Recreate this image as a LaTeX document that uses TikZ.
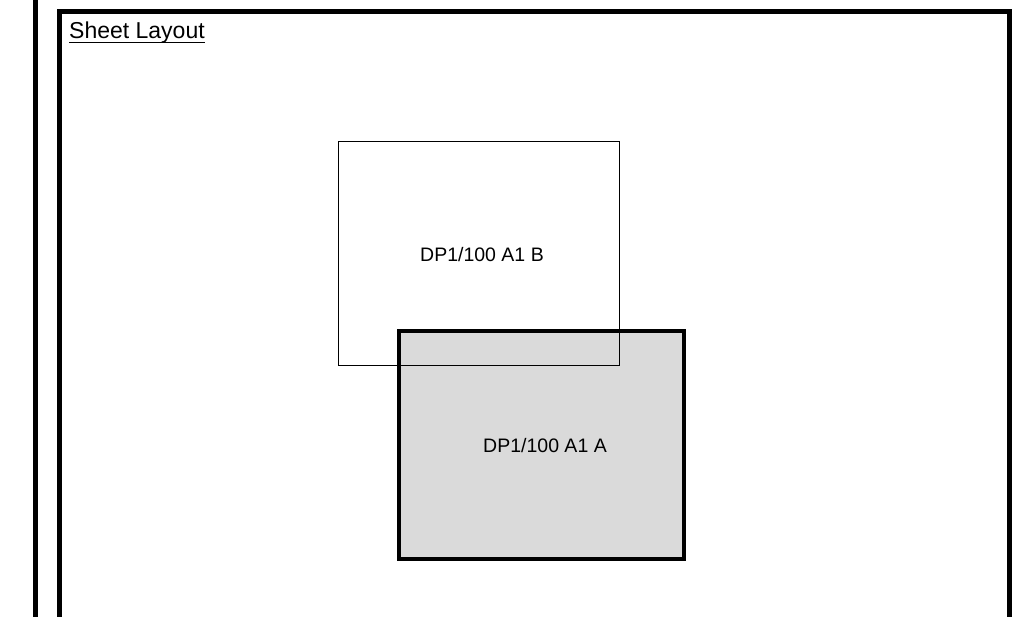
\documentclass[tikz,border=0pt]{standalone}
\usepackage{fontspec}
\setmainfont{Liberation Sans}
\definecolor{sheetgray}{RGB}{218,218,218}
\begin{document}
\begin{tikzpicture}[x=1pt,y=-1pt,
  frameline/.style={line width=5pt,line join=miter,line cap=butt},
  thinbox/.style={draw=black,line width=0.9pt},
  thickbox/.style={draw=black,fill=sheetgray,line width=3.5pt,line join=miter},
  boxlabel/.style={font=\fontsize{19.5}{23}\selectfont,inner sep=0pt},
  titlelabel/.style={font=\fontsize{23}{27}\selectfont,inner sep=0pt,anchor=base west}]
\clip (0,0) rectangle (1019,617);
\fill[white] (0,0) rectangle (1019,617);
% outer left rule and sheet frame
\coordinate (ltop) at (35,-5);
\coordinate (lbot) at (35,625);
\draw[frameline] (ltop) -- (lbot);
\coordinate (fbl) at (59,625);
\coordinate (ftl) at (59,11.5);
\coordinate (ftr) at (1009,11.5);
\coordinate (fbr) at (1009,625);
\draw[frameline] (fbl) -- (ftl) -- (ftr) -- (fbr);
% title
\node[titlelabel] (title) at (69,39) {Sheet Layout};
\draw[line width=1pt] ([yshift=-4pt]title.base west) -- ([yshift=-4pt]title.base east);
% sheet A (filled, thick)
\draw[thickbox] (399,331) rectangle (684,559);
\node[boxlabel] (labA) at (545,446) {DP1/100 A1 A};
% sheet B (outline)
\draw[thinbox] (338.5,141) rectangle (619,365);
\node[boxlabel] (labB) at (482,255) {DP1/100 A1 B};
\end{tikzpicture}
\end{document}
